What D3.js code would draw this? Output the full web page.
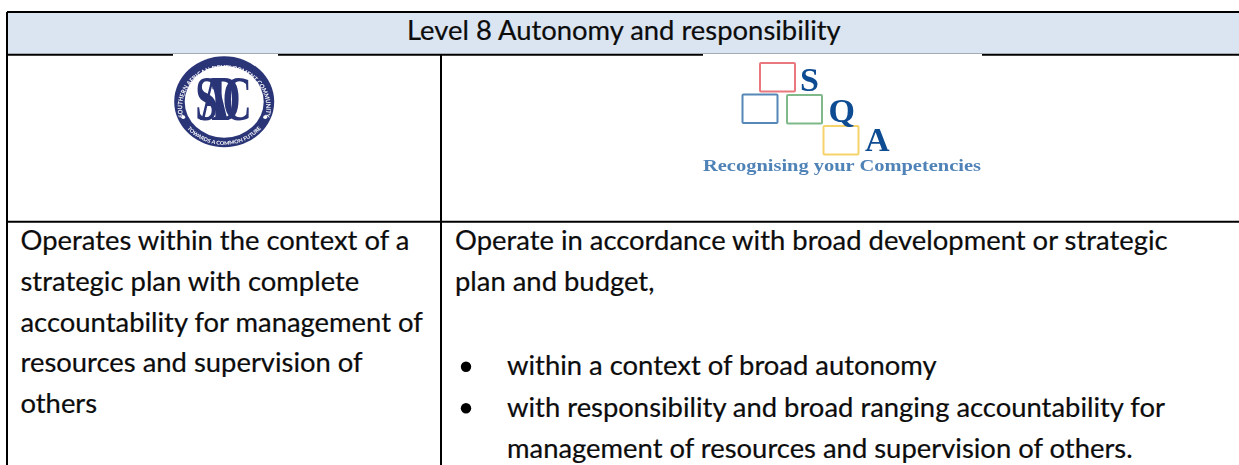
<!DOCTYPE html>
<html>
<head>
<meta charset="utf-8">
<script src="https://cdn.jsdelivr.net/npm/d3@7"></script>
<style>
  html, body { margin: 0; padding: 0; background: #fff; }
  svg { display: block; }
  text { font-family: Lato, "Open Sans", sans-serif; fill: #0c0c0c; }
</style>
</head>
<body>
<div id="chart"></div>
<script>
// table text
const title = "Level 8 Autonomy and responsibility";
const leftLines = [
  "Operates within the context of a",
  "strategic plan with complete",
  "accountability for management of",
  "resources and supervision of",
  "others",
];
const rightLines = [
  "Operate in accordance with broad development or strategic",
  "plan and budget,",
];
const bulletLines = [
  { text: "within a context of broad autonomy", bullet: true },
  { text: "with responsibility and broad ranging accountability for", bullet: true },
  { text: "management of resources and supervision of others.", bullet: false },
];
// logo text
const sqaLetters = ["S", "Q", "A"];
const sqaTagline = "Recognising your Competencies";
const sadcTop = "SOUTHERN AFRICAN DEVELOPMENT COMMUNITY";
const sadcBottom = "TOWARDS A COMMON FUTURE";
const sadcMark = "SADC";

const width = 1239, height = 465;
const svg = d3.select("#chart").append("svg").attr("width", width).attr("height", height);

const defs = svg.append("defs");
defs.append("filter").attr("id", "soft").append("feGaussianBlur").attr("stdDeviation", 0.55);

// table frame
const tableLeft = 7, tableTop = 12, headBottom = 54.8, rowBottom = 221.8, divider = 441;
svg.append("rect").attr("x", tableLeft).attr("y", tableTop).attr("width", width - tableLeft).attr("height", headBottom - tableTop).attr("fill", "#dbe5f1");

const rules = [
  [tableLeft, tableTop, width, tableTop],
  [tableLeft, headBottom, width, headBottom],
  [tableLeft, rowBottom, width, rowBottom],
  [tableLeft, tableTop, tableLeft, height],
  [divider, headBottom, divider, height],
];
svg.append("g").selectAll("line").data(rules).join("line")
  .attr("x1", (d) => d[0]).attr("y1", (d) => d[1])
  .attr("x2", (d) => d[2]).attr("y2", (d) => d[3])
  .attr("stroke", "#000").attr("stroke-width", 2);

// images sit over the header rule in the original
svg.append("rect").attr("x", 173).attr("y", 54).attr("width", 105).attr("height", 2).attr("fill", "#fff");
svg.append("rect").attr("x", 703).attr("y", 54).attr("width", 279).attr("height", 2).attr("fill", "#fff");

// Lato is narrower than the original face at the same height, so stretch each line
const fontSize = 26;
const stretch = 27.4 / fontSize;
const fitLine = (sel) => sel
  .style("font-size", fontSize + "px")
  .style("stroke", "#0c0c0c").style("stroke-width", 0.2)
  .attr("lengthAdjust", "spacingAndGlyphs")
  .attr("textLength", function () { return this.getComputedTextLength() * stretch; });

svg.append("text").attr("x", 407).attr("y", 40).text(title).call(fitLine);

// baseline of each text line in the body row
const lineY = d3.scaleLinear().domain([0, 1]).range([250, 290.8]);

svg.append("g").selectAll("text").data(leftLines).join("text")
  .attr("x", 20.5).attr("y", (d, i) => lineY(i)).text((d) => d).call(fitLine);

svg.append("g").selectAll("text").data(rightLines).join("text")
  .attr("x", 455).attr("y", (d, i) => lineY(i)).text((d) => d).call(fitLine);

const bulletY = d3.scaleLinear().domain([0, 1]).range([375, 416.5]);
const bullets = svg.append("g").selectAll("g").data(bulletLines).join("g");
bullets.append("text").attr("x", 507).attr("y", (d, i) => bulletY(i)).text((d) => d.text).call(fitLine);
bullets.filter((d) => d.bullet).append("circle")
  .attr("cx", 466).attr("cy", (d) => bulletY(bulletLines.indexOf(d)) - 8.3).attr("r", 5.2).attr("fill", "#000");

// SADC logo
const navy = "#2b3578";
const sadc = svg.append("g").attr("transform", "translate(224.2,101.7) scale(1,0.91)").attr("filter", "url(#soft)");
sadc.append("circle").attr("r", 50).attr("fill", navy);
sadc.append("circle").attr("r", 39.5).attr("fill", "#fff");
defs.append("path").attr("id", "sadcTopArc").attr("d", "M-38,24 A42,42 0 1 1 38,24");
defs.append("path").attr("id", "sadcBottomArc").attr("d", "M-39,27 A47.5,47.5 0 0 0 39,27");
sadc.append("text").append("textPath").attr("href", "#sadcTopArc").attr("startOffset", "50%")
  .attr("text-anchor", "middle").style("font-size", "6.3px").style("font-weight", 700).style("fill", "#fff").text(sadcTop);
sadc.append("text").append("textPath").attr("href", "#sadcBottomArc").attr("startOffset", "50%")
  .attr("text-anchor", "middle").style("font-size", "5.6px").style("font-weight", 700).style("fill", "#fff").text(sadcBottom);
sadc.selectAll("circle.dot").data([-1, 1]).join("circle").attr("class", "dot")
  .attr("cx", (d) => d * 41).attr("cy", 17).attr("r", 2).attr("fill", "#fff");
// the four letters lean on each other in the emblem
sadc.append("text").attr("transform", "translate(-29,20) scale(0.58,1)")
  .style("font-family", "'Liberation Serif', serif").style("font-size", "70px").style("font-weight", 700)
  .style("letter-spacing", "-31px").style("fill", navy).text(sadcMark);

// SQA logo
const boxes = [
  { x: 760, y: 63, stroke: "#e8787e" },
  { x: 742.5, y: 94.5, stroke: "#5588b8" },
  { x: 787, y: 95, stroke: "#7fb98a" },
  { x: 823.5, y: 126, stroke: "#f6d36a" },
];
const sqa = svg.append("g").attr("filter", "url(#soft)");
sqa.selectAll("rect").data(boxes).join("rect")
  .attr("x", (d) => d.x).attr("y", (d) => d.y).attr("width", 35).attr("height", 28.5).attr("rx", 1)
  .attr("fill", "#fff").attr("stroke", (d) => d.stroke).attr("stroke-width", 2);
const letterX = d3.scaleOrdinal().domain(sqaLetters).range([800, 828.5, 865]);
const letterY = d3.scaleOrdinal().domain(sqaLetters).range([90.5, 122, 150.5]);
sqa.selectAll("text.letter").data(sqaLetters).join("text").attr("class", "letter")
  .attr("x", (d) => letterX(d)).attr("y", (d) => letterY(d))
  .style("font-family", "'Liberation Serif', serif").style("font-size", "34px").style("font-weight", 700)
  .style("fill", "#0f4c92").text((d) => d);
sqa.append("text").attr("x", 703).attr("y", 170.5)
  .attr("textLength", 278).attr("lengthAdjust", "spacingAndGlyphs")
  .style("font-family", "'Liberation Serif', serif").style("font-size", "16.5px").style("font-weight", 700)
  .style("fill", "#4f82b6").text(sqaTagline);
</script>
</body>
</html>
